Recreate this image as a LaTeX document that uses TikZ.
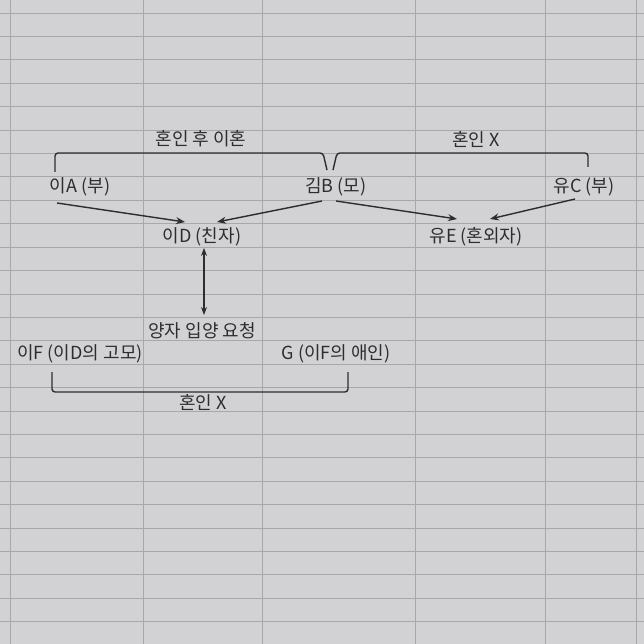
\documentclass[tikz,border=0pt]{standalone}
\usepackage{fontspec}
\setmainfont{Noto Sans CJK KR}
\usetikzlibrary{arrows.meta,calc}
\definecolor{sheet}{RGB}{210,209,212}
\definecolor{gridline}{RGB}{168,168,172}
\definecolor{ink}{RGB}{45,45,48}
\tikzset{
  person/.style={text=ink, font=\fontsize{18}{20}\selectfont, inner sep=1pt},
  link/.style={draw=ink, line width=1.4pt, -{Stealth[length=9pt,width=7pt]}},
  twoway/.style={draw=ink, line width=1.2pt, {Stealth[length=8pt,width=6pt]}-{Stealth[length=8pt,width=6pt]}},
  bracket/.style={draw=ink, line width=1.4pt, rounded corners=3pt},
}

\begin{document}
\begin{tikzpicture}[x=1pt,y=-1pt]
			%%%%% SHEET %%%%%
			\useasboundingbox (0,0) rectangle (644,644);
			\fill[sheet] (0,0) rectangle (644,644);
			\foreach \gx in {10,143,262,415,545,636}
				\draw[gridline, line width=0.8pt] (\gx,0) -- (\gx,644);
			\foreach \gy in {0,...,27}
				\draw[gridline, line width=0.6pt] (0,{13+23.4*\gy}) -- (644,{13+23.4*\gy});
			
			%%%%% LABELS %%%%%
			\node[person] (divorce) at (201,139) {혼인 후 이혼};
			\node[person] (nomarryBC) at (476,139) {혼인 X};
			
			\node[person] (leeA) at (80,187) {이A (부)};
			\node[person] (kimB) at (336,187) {김B (모)};
			\node[person] (yuC) at (584,187) {유C (부)};
			
			\node[person] (leeD) at (202,237) {이D (친자)};
			\node[person] (yuE) at (476,237) {유E (혼외자)};
			
			\node[person] (request) at (202,331) {양자 입양 요청};
			\node[person] (leeF) at (80,354) {이F (이D의 고모)};
			\node[person] (G) at (336,354) {G (이F의 애인)};
			\node[person] (nomarryFG) at (203,402) {혼인 X};
			
			%%%%% BRACKETS %%%%%
			\draw[bracket] (55,172) -- (55,153) -- (323,153) -- (327,170);
			\draw[bracket] (333,170) -- (337,153) -- (588,153) -- (588,167);
			\draw[bracket] (52,372) -- (52,392) -- (348,392) -- (348,372);
			
			%%%%% ARROWS %%%%%
			\draw[link] ($(leeA)+(-23,16)$) -- ($(leeD)+(-17,-15)$);
			\draw[link] ($(kimB)+(-14,14)$) -- ($(leeD)+(15,-15)$);
			\draw[link] ($(kimB)+(0,14)$) -- ($(yuE)+(-19,-18)$);
			\draw[link] ($(yuC)+(-9,12)$) -- ($(yuE)+(14,-18)$);
			\draw[twoway] ($(leeD)+(2,11)$) -- ($(request)+(2,-16)$);
			
\end{tikzpicture}
\end{document}
